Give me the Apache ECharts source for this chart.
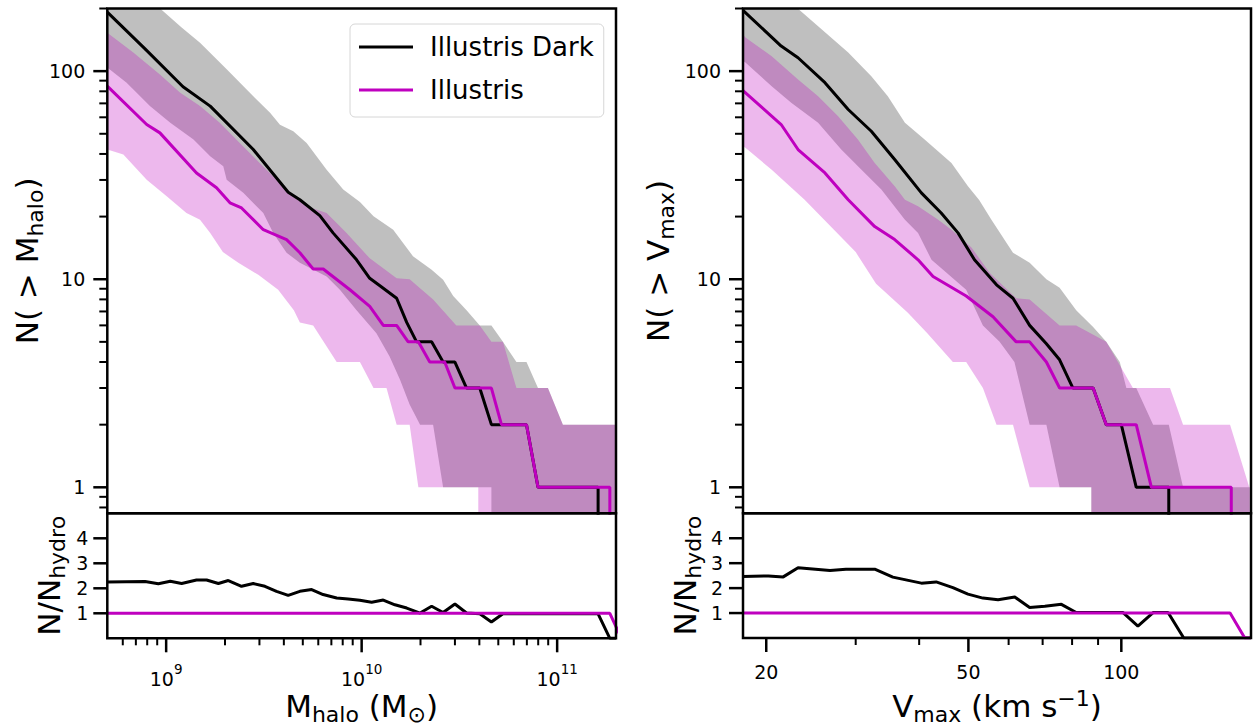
<!DOCTYPE html>
<html><head><meta charset="utf-8">
<script src="https://cdn.jsdelivr.net/npm/echarts@6/dist/echarts.min.js"></script>
<style>html,body{margin:0;padding:0;background:#fff}#c{width:1253px;height:727px}</style>
</head><body><div id="c"></div><script>
// ---------------- data ----------------
const massRange = [5e8, 2e11];
const vmaxRange = [18, 180];
const countRange = [0.75, 200];
const ratioRange = [0, 5];

const countMajorTicks = [1, 10, 100];
const countMajorLabels = ['1', '10', '100'];
const countMinorTicks = [0.8, 0.9, 2, 3, 4, 5, 6, 7, 8, 9, 20, 30, 40, 50, 60, 70, 80, 90, 200];
const ratioTicks = [1, 2, 3, 4];
const ratioLabels = ['1', '2', '3', '4'];
const massMajorTicks = [1e9, 1e10, 1e11];
const massMajorLabels = ['{b|10}{s|9}', '{b|10}{s|10}', '{b|10}{s|11}'];
const massMinorTicks = [6e8, 7e8, 8e8, 9e8, 2e9, 3e9, 4e9, 5e9, 6e9, 7e9, 8e9, 9e9, 2e10, 3e10, 4e10, 5e10, 6e10, 7e10, 8e10, 9e10];
const vmaxMajorTicks = [20, 50, 100];
const vmaxMajorLabels = ['20', '50', '100'];
const vmaxMinorTicks = [30, 40, 60, 70, 80, 90];

const seriesNames = ['Illustris Dark', 'Illustris'];

// Left: N(>M_halo)
const massDarkLine = [[5.0e8,192],[7.8e8,128],[1.22e9,84.1],[1.68e9,67.9],[2.79e9,42.0],[4.21e9,26.2],[4.83e9,24.1],[6.11e9,20.2],[7.14e9,16.7],[9.42e9,12.4],[1.10e10,10.1],[1.24e10,9.3],[1.51e10,8.1],[1.70e10,6.2],[1.91e10,5],[2.28e10,5],[2.61e10,4],[3.00e10,4],[3.44e10,3],[4.02e10,3],[4.61e10,2],[6.97e10,2],[7.98e10,1],[1.62e11,1],[1.62e11,0.001]];
const massHydroLine = [[5.0e8,84.7],[7.95e8,55.4],[9.29e8,50.5],[1.43e9,32.4],[1.81e9,27.5],[2.12e9,23.3],[2.43e9,22.0],[3.14e9,17.3],[4.13e9,15.5],[4.83e9,13.4],[5.65e9,11.2],[6.36e9,11.2],[8.71e9,8.9],[1.10e10,7.4],[1.29e10,6],[1.51e10,6],[1.73e10,5],[1.95e10,5],[2.23e10,4],[2.66e10,4],[3.00e10,3],[4.61e10,3],[5.19e10,2],[6.97e10,2],[7.98e10,1],[1.86e11,1],[1.86e11,0.001]];
const massDarkUpper = [[5.0e8,335],[9.66e8,194],[1.20e9,162],[1.49e9,137],[2.04e9,102],[2.90e9,73.1],[3.40e9,63.1],[3.82e9,55.3],[4.47e9,51.4],[5.23e9,45.2],[6.62e9,33.6],[8.05e9,27.0],[9.80e9,23.5],[1.15e10,20.1],[1.45e10,17.3],[1.83e10,12.9],[2.28e10,11.1],[2.61e10,9.95],[2.94e10,8.3],[3.44e10,7.1],[4.02e10,6],[4.61e10,6],[5.28e10,5],[6.19e10,4],[6.97e10,4],[7.98e10,3],[8.97e10,3],[1.07e11,2],[2.0e11,2]];
const massDarkLower = [[5.0e8,104],[6.28e8,88],[8.26e8,67.9],[1.05e9,56.5],[1.38e9,46.9],[1.68e9,39.0],[1.96e9,34.9],[2.04e9,30.1],[2.48e9,26.0],[3.14e9,20.8],[3.53e9,16.7],[4.13e9,13.4],[4.83e9,12.0],[6.62e9,10.3],[7.74e9,8.9],[9.42e9,7.1],[1.19e10,5.5],[1.39e10,4.25],[1.57e10,3.3],[1.76e10,2.5],[1.99e10,2],[2.32e10,2],[2.61e10,1],[4.61e10,1],[4.61e10,0.001],[2.0e11,0.001]];
const massHydroUpper = [[5.0e8,153],[6.79e8,123],[9.29e8,96.4],[1.18e9,78.8],[1.49e9,67.9],[1.88e9,56.5],[2.38e9,45.2],[3.01e9,36.2],[4.13e9,27.0],[5.23e9,22.4],[6.62e9,20.8],[8.37e9,16.7],[1.10e10,12.6],[1.51e10,10.1],[1.76e10,10],[2.32e10,8],[3.05e10,6],[4.02e10,6],[4.61e10,5],[5.28e10,5],[6.19e10,3],[8.97e10,3],[1.07e11,2],[2.0e11,2]];
const massHydroLower = [[5.0e8,42.0],[6.04e8,39.7],[7.95e8,30.1],[1.01e9,25.0],[1.27e9,20.8],[1.49e9,19.3],[1.68e9,16.7],[1.95e9,13.5],[2.34e9,12.0],[2.96e9,10.5],[3.74e9,8.9],[4.50e9,7.1],[4.83e9,6.2],[5.65e9,6],[7.45e9,4],[9.80e9,4],[1.15e10,3],[1.34e10,3],[1.51e10,2],[1.76e10,2],[1.95e10,1],[3.95e10,1],[3.95e10,0.001],[2.0e11,0.001]];
const massRatioDark = [[5.0e8,2.25],[7.80e8,2.27],[9.12e8,2.18],[1.05e9,2.28],[1.20e9,2.19],[1.43e9,2.33],[1.61e9,2.33],[1.85e9,2.19],[2.08e9,2.31],[2.43e9,2.08],[2.79e9,2.19],[3.20e9,2.08],[3.67e9,1.88],[4.21e9,1.72],[4.83e9,1.88],[5.55e9,1.95],[6.35e9,1.75],[7.45e9,1.61],[8.53e9,1.57],[9.79e9,1.52],[1.125e10,1.44],[1.29e10,1.53],[1.48e10,1.34],[1.70e10,1.21],[1.99e10,1.01],[2.28e10,1.28],[2.61e10,1.03],[3.00e10,1.37],[3.44e10,1.01],[4.02e10,0.98],[4.61e10,0.65],[5.28e10,0.98],[1.62e11,0.98],[1.86e11,0],[2.0e11,0]];
const massRatioHydro = [[5.0e8,1],[1.86e11,1],[2.13e11,0]];

// Right: N(>V_max)
const vmaxDarkLine = [[18.0,196],[21.4,132],[23.1,116],[26.1,88],[29.0,65.4],[32.2,51.4],[35.8,37.6],[40.4,26.0],[44.2,20.8],[47.7,16.7],[51.4,12.4],[56.8,9.4],[61.2,8.1],[66.0,6.0],[71.2,4.9],[75.6,4.1],[80.3,3],[88.0,3],[93.4,2],[100,2],[107,1],[124,1],[124,0.001]];
const vmaxHydroLine = [[18.0,80.5],[21.4,55.4],[23.1,42.0],[26.1,32.4],[29.0,24.1],[32.7,17.9],[35.8,15.5],[39.8,12.4],[42.6,10.3],[49.5,8.3],[55.9,6.6],[62.1,5],[66.0,5],[71.2,4],[75.6,3],[88.0,3],[93.4,2],[107,2],[114.6,1],[164.6,1],[164.6,0.001]];
const vmaxDarkUpper = [[18.0,345],[23.4,194],[25.7,159],[29.0,123],[32.2,94.6],[34.7,75.8],[37.5,56.5],[41.0,46.9],[46.3,36.2],[49.9,28.0],[52.5,24],[55.5,19.3],[61.2,13.4],[66.0,12.0],[71.2,10.0],[75.6,9.1],[81.5,7.1],[88.0,5.9],[93.4,5],[99.3,4],[102.3,3],[107,3],[115.5,2],[124,2],[132.3,1],[178.6,1],[178.6,0.001],[180,0.001]];
const vmaxDarkLower = [[18.0,112],[18.2,110],[20.5,84.7],[22.4,70.5],[25.3,56.5],[28.1,42.0],[30.8,33.6],[33.7,27.0],[37.5,19.3],[39.8,16.7],[42.3,12.4],[49.5,8.9],[53.4,6],[57.6,5],[61.6,4],[66.0,2],[71.2,2],[75.6,1],[87.3,1],[87.3,0.001],[180,0.001]];
const vmaxHydroUpper = [[18.0,150],[18.2,145],[20.5,118],[23.1,91.2],[25.3,75.8],[27.7,60.7],[30.3,46.9],[32.7,36.2],[35.8,28.0],[37.5,24.1],[39.8,22.4],[43.6,19.3],[46.3,17.3],[50.7,14.2],[55.1,10.7],[62.1,8.1],[66.0,8],[75.6,6],[81.5,6],[93.4,5],[105.4,3],[124.7,3],[132.3,2],[163.7,2],[178.6,1],[180,1]];
const vmaxHydroLower = [[18.0,43.5],[18.2,42.8],[20.5,33.6],[23.8,24.1],[27.7,16.5],[30.0,13.5],[32.9,9.5],[38.0,6.9],[41.5,5.5],[46.6,4],[49.5,4],[53.4,3],[56.8,2],[61.2,2],[66.0,1],[87.3,1],[87.3,0.001],[180,0.001]];
const vmaxRatioDark = [[18.0,2.47],[20.2,2.49],[21.6,2.45],[23.1,2.82],[26.7,2.71],[28.7,2.76],[32.7,2.76],[35.5,2.44],[40.4,2.20],[43.2,2.25],[46.6,2.02],[49.9,1.76],[53.4,1.60],[57.2,1.53],[61.7,1.64],[66.0,1.22],[70.7,1.27],[76.2,1.35],[81.5,1.02],[100.8,1.02],[107.8,0.48],[115.5,1.02],[123.6,1.02],[132.7,0],[180,0]];
const vmaxRatioHydro = [[18,1],[163.7,1],[175,0],[180,0]];

// ---------------- styling / helpers ----------------
const FONT = 'DejaVu Sans';
const BLACK = '#000000', MAG = '#bf00bf';
const GRAY_FILL = 'rgba(128,128,128,0.5)', PINK_FILL = 'rgba(191,0,191,0.28)';
const TICK_RICH = {
  b: {fontSize: 19, fontFamily: FONT, fill: '#000', lineHeight: 26, verticalAlign: 'bottom'},
  s: {fontSize: 13.5, fontFamily: FONT, fill: '#000', lineHeight: 12, verticalAlign: 'top'}
};
const TITLE_RICH = {
  a: {fontSize: 31, fontFamily: FONT, color: '#000', lineHeight: 38, verticalAlign: 'middle'},
  b: {fontSize: 22, fontFamily: FONT, color: '#000', lineHeight: 20, verticalAlign: 'bottom'},
  c: {fontSize: 22, fontFamily: FONT, color: '#000', lineHeight: 20, verticalAlign: 'top'}
};

function clipPoly(pts, x0, y0, x1, y1) {
  const edges = [
    [p => p[0] >= x0, (a, b) => { const t = (x0 - a[0]) / (b[0] - a[0]); return [x0, a[1] + t * (b[1] - a[1])]; }],
    [p => p[0] <= x1, (a, b) => { const t = (x1 - a[0]) / (b[0] - a[0]); return [x1, a[1] + t * (b[1] - a[1])]; }],
    [p => p[1] >= y0, (a, b) => { const t = (y0 - a[1]) / (b[1] - a[1]); return [a[0] + t * (b[0] - a[0]), y0]; }],
    [p => p[1] <= y1, (a, b) => { const t = (y1 - a[1]) / (b[1] - a[1]); return [a[0] + t * (b[0] - a[0]), y1]; }]
  ];
  let out = pts;
  for (const [inside, inter] of edges) {
    const input = out; out = [];
    if (!input.length) break;
    let prev = input[input.length - 1];
    for (const cur of input) {
      if (inside(cur)) { if (!inside(prev)) out.push(inter(prev, cur)); out.push(cur); }
      else if (inside(prev)) out.push(inter(prev, cur));
      prev = cur;
    }
  }
  return out;
}

function band(xi, yi, upper, lower, fill, z) {
  return {
    type: 'custom', xAxisIndex: xi, yAxisIndex: yi, z: z, silent: true, clip: false,
    data: [[upper[0][0], 1]],
    renderItem: function (params, api) {
      const cs = params.coordSys;
      const pts = upper.map(d => api.coord(d)).concat(lower.slice().reverse().map(d => api.coord(d)));
      const c = clipPoly(pts, cs.x, cs.y, cs.x + cs.width, cs.y + cs.height);
      return {type: 'polygon', shape: {points: c}, style: {fill: fill, stroke: null, lineWidth: 0}};
    }
  };
}

function line(name, xi, yi, data, color, z) {
  return {type: 'line', name: name, xAxisIndex: xi, yAxisIndex: yi, data: data, showSymbol: false, symbol: 'none',
    color: color, itemStyle: {color: color}, lineStyle: {color: color, width: 3}, z: z, clip: true, silent: true};
}

function tk(x1, y1, x2, y2, w) { return {type: 'line', shape: {x1: x1, y1: y1, x2: x2, y2: y2}, style: {stroke: '#000', lineWidth: w}}; }
function lbl(x, y, text, align) {
  return {type: 'text', x: x, y: y, style: {text: text, align: align, verticalAlign: 'middle', textAlign: align, textVerticalAlign: 'middle',
    font: '19px "DejaVu Sans"', fill: '#000', rich: TICK_RICH}};
}

function decor(xi, yi, ref, cfg) {
  return {
    type: 'custom', xAxisIndex: xi, yAxisIndex: yi, z: 20, silent: true, clip: false,
    data: [ref],
    renderItem: function (params, api) {
      const cs = params.coordSys, L = cs.x, B = cs.y + cs.height;
      const kids = [];
      if (cfg.yMinor) cfg.yMinor.forEach(v => { const y = api.coord([ref[0], v])[1]; kids.push(tk(L - 8, y, L, y, 2)); });
      if (cfg.yMajor) cfg.yMajor.forEach((v, i) => { const y = api.coord([ref[0], v])[1]; kids.push(tk(L - 14, y, L, y, 2.5)); kids.push(lbl(L - cfg.yGap, y, cfg.yText[i], 'right')); });
      if (cfg.xMinor) cfg.xMinor.forEach(v => { const x = api.coord([v, ref[1]])[0]; kids.push(tk(x, B, x, B + 7, 2)); });
      if (cfg.xMajor) cfg.xMajor.forEach((v, i) => { const x = api.coord([v, ref[1]])[0]; kids.push(tk(x, B, x, B + 14, 2.5)); kids.push(lbl(x, B + cfg.xGap, cfg.xText[i], 'center')); });
      return {type: 'group', children: kids};
    }
  };
}

const gridBase = {show: true, borderColor: '#000', borderWidth: 2.5, backgroundColor: 'transparent', z: 15, containLabel: false, outerBoundsMode: 'none'};
const hidden = {axisLine: {show: false}, axisTick: {show: false}, axisLabel: {show: false}, splitLine: {show: false}, minorTick: {show: false}};

const option = {
  animation: false,
  backgroundColor: '#ffffff',
  grid: [
    Object.assign({left: 107.3, top: 8.5, width: 508.7, height: 504.8}, gridBase),
    Object.assign({left: 107.3, top: 513.3, width: 508.7, height: 125}, gridBase),
    Object.assign({left: 743, top: 8.5, width: 508, height: 504.8}, gridBase),
    Object.assign({left: 743, top: 513.3, width: 508, height: 124.7}, gridBase)
  ],
  xAxis: [
    Object.assign({gridIndex: 0, type: 'log', logBase: 10, min: massRange[0], max: massRange[1], show: false}, hidden),
    Object.assign({gridIndex: 1, type: 'log', logBase: 10, min: massRange[0], max: massRange[1],
      name: '{a|M}{b|halo}{a| (M}{b|⊙}{a|)}', nameLocation: 'middle', nameGap: 49, nameTextStyle: {rich: TITLE_RICH}}, hidden),
    Object.assign({gridIndex: 2, type: 'log', logBase: 10, min: vmaxRange[0], max: vmaxRange[1], show: false}, hidden),
    Object.assign({gridIndex: 3, type: 'log', logBase: 10, min: vmaxRange[0], max: vmaxRange[1],
      name: '{a|V}{b|max}{a| (km s}{c|−1}{a|)}', nameLocation: 'middle', nameGap: 49, nameTextStyle: {rich: TITLE_RICH}}, hidden)
  ],
  yAxis: [
    Object.assign({gridIndex: 0, type: 'log', logBase: 10, min: countRange[0], max: countRange[1],
      name: '{a|N( > M}{b|halo}{a|)}', nameLocation: 'middle', nameRotate: 90, nameGap: 61, nameTextStyle: {rich: TITLE_RICH}}, hidden),
    Object.assign({gridIndex: 1, type: 'value', min: ratioRange[0], max: ratioRange[1],
      name: '{a|N/N}{b|hydro}', nameLocation: 'middle', nameRotate: 90, nameGap: 39, nameTextStyle: {rich: TITLE_RICH}}, hidden),
    Object.assign({gridIndex: 2, type: 'log', logBase: 10, min: countRange[0], max: countRange[1],
      name: '{a|N( > V}{b|max}{a|)}', nameLocation: 'middle', nameRotate: 90, nameGap: 66, nameTextStyle: {rich: TITLE_RICH}}, hidden),
    Object.assign({gridIndex: 3, type: 'value', min: ratioRange[0], max: ratioRange[1],
      name: '{a|N/N}{b|hydro}', nameLocation: 'middle', nameRotate: 90, nameGap: 39, nameTextStyle: {rich: TITLE_RICH}}, hidden)
  ],
  legend: {
    show: true, data: seriesNames, orient: 'vertical', left: 350, top: 24, padding: [8, 10, 12, 9], itemGap: 13,
    itemWidth: 54, itemHeight: 3, icon: 'rect', selectedMode: false,
    backgroundColor: 'rgba(255,255,255,0.8)', borderColor: '#d6d6d6', borderWidth: 1, borderRadius: 5, z: 30,
    textStyle: {fontSize: 26, fontFamily: FONT, color: '#000', lineHeight: 30, padding: [0, 0, 0, 12]}
  },
  series: [
    band(0, 0, massDarkUpper, massDarkLower, GRAY_FILL, 1),
    band(0, 0, massHydroUpper, massHydroLower, PINK_FILL, 2),
    line(seriesNames[0], 0, 0, massDarkLine, BLACK, 3),
    line(seriesNames[1], 0, 0, massHydroLine, MAG, 4),
    line('ratio dark M', 1, 1, massRatioDark, BLACK, 3),
    line('ratio hydro M', 1, 1, massRatioHydro, MAG, 4),
    band(2, 2, vmaxDarkUpper, vmaxDarkLower, GRAY_FILL, 1),
    band(2, 2, vmaxHydroUpper, vmaxHydroLower, PINK_FILL, 2),
    line(seriesNames[0], 2, 2, vmaxDarkLine, BLACK, 3),
    line(seriesNames[1], 2, 2, vmaxHydroLine, MAG, 4),
    line('ratio dark V', 3, 3, vmaxRatioDark, BLACK, 3),
    line('ratio hydro V', 3, 3, vmaxRatioHydro, MAG, 4),
    decor(0, 0, [massRange[0], 1], {yMajor: countMajorTicks, yText: countMajorLabels, yMinor: countMinorTicks, yGap: 22}),
    decor(1, 1, [massRange[0], 1], {yMajor: ratioTicks, yText: ratioLabels, yGap: 19,
      xMajor: massMajorTicks, xText: massMajorLabels, xMinor: massMinorTicks, xGap: 37}),
    decor(2, 2, [vmaxRange[0], 1], {yMajor: countMajorTicks, yText: countMajorLabels, yMinor: countMinorTicks, yGap: 22}),
    decor(3, 3, [vmaxRange[0], 1], {yMajor: ratioTicks, yText: ratioLabels, yGap: 20,
      xMajor: vmaxMajorTicks, xText: vmaxMajorLabels, xMinor: vmaxMinorTicks, xGap: 34})
  ]
};

const chart = echarts.init(document.getElementById('c'), null, {renderer: 'svg'});
chart.setOption(option);
</script></body></html>
